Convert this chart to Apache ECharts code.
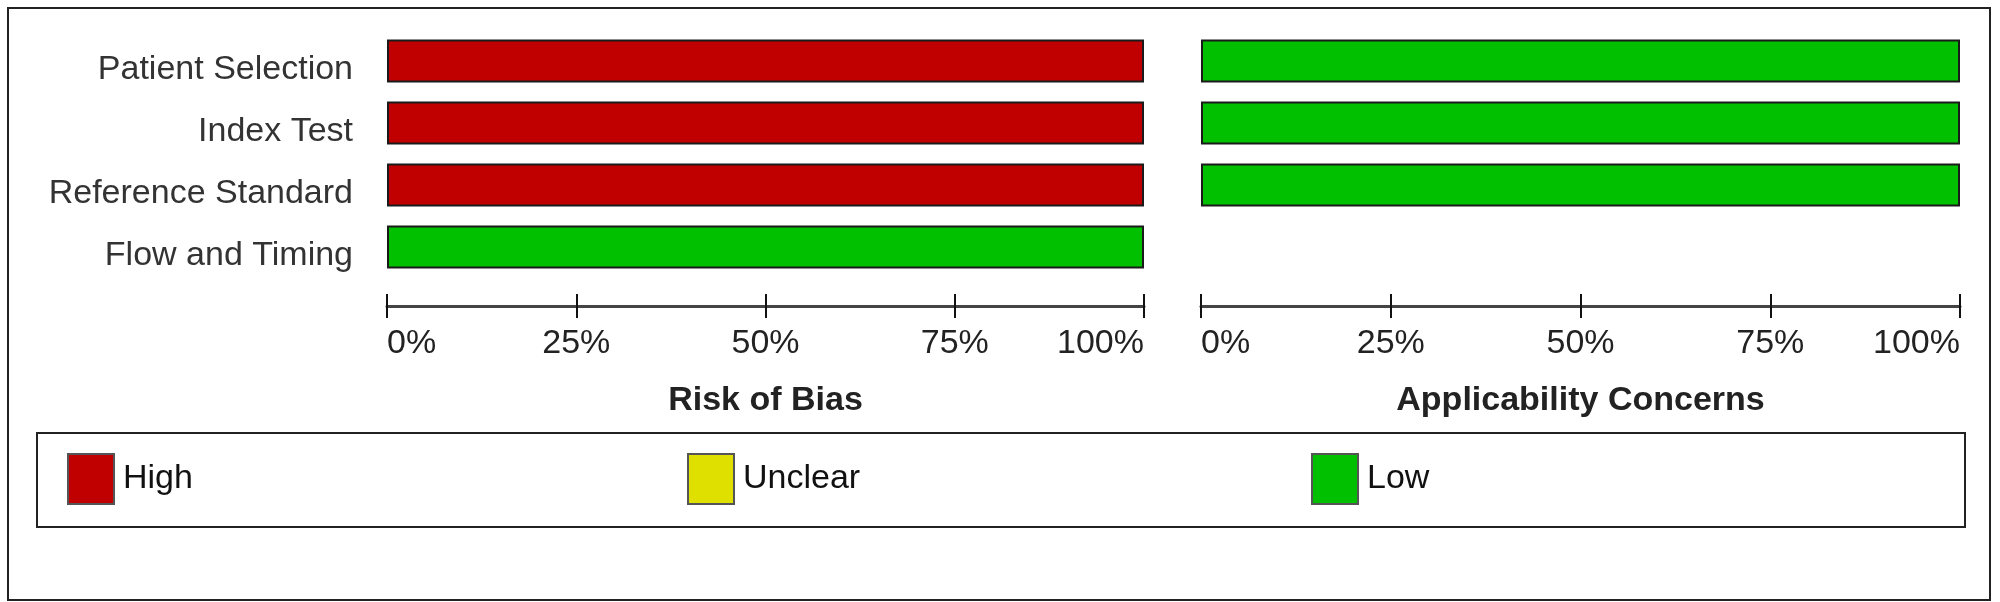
<!DOCTYPE html>
<html>
<head>
<meta charset="utf-8">
<script src="https://cdn.jsdelivr.net/npm/echarts@6/dist/echarts.min.js"></script>
<style>
  html, body { margin: 0; padding: 0; background: #fff; }
  #chart { width: 2000px; height: 602px; }
</style>
</head>
<body>
<div id="chart"></div>
<script>
// domains on the y axis
const domains = ['Patient Selection', 'Index Test', 'Reference Standard', 'Flow and Timing'];
const ticks = [0, 25, 50, 75, 100];
const levels = ['High', 'Unclear', 'Low'];
const levelColors = ['#C00000', '#E0E000', '#00C000'];

// % of studies per domain
const biasHigh = [100, 100, 100, 0];
const biasUnclear = [0, 0, 0, 0];
const biasLow = [0, 0, 0, 100];

const applHigh = [0, 0, 0, null];
const applUnclear = [0, 0, 0, null];
const applLow = [100, 100, 100, null];

const font = 'Liberation Sans, Arial, sans-serif';
const myChart = echarts.init(document.getElementById('chart'));

// zero / missing -> no bar drawn
const clean = arr => arr.map(v => (v ? v : '-'));

function mainAxis(gridIndex, title) {
  return {
    type: 'value', gridIndex: gridIndex, position: 'bottom', offset: 28,
    min: ticks[0], max: ticks[ticks.length - 1], interval: 25,
    splitLine: { show: false },
    axisLine: { show: true, lineStyle: { color: '#444', width: 3 } },
    axisTick: { show: true, length: 12, lineStyle: { color: '#111', width: 2 } },
    axisLabel: {
      formatter: '{value}%', fontSize: 34, fontFamily: font, color: '#222', margin: 21,
      alignMinLabel: 'left', alignMaxLabel: 'right'
    },
    name: title, nameLocation: 'middle', nameGap: 78, nameMoveOverlap: false,
    nameTextStyle: { fontSize: 34, fontWeight: 'bold', fontFamily: font, color: '#222' }
  };
}
function innerTicks(gridIndex) {
  return {
    type: 'value', gridIndex: gridIndex, position: 'bottom', offset: 28,
    min: ticks[0], max: ticks[ticks.length - 1], interval: 25,
    splitLine: { show: false },
    axisLine: { show: false },
    axisTick: { show: true, inside: true, length: 12, lineStyle: { color: '#111', width: 2 } },
    axisLabel: { show: false }
  };
}
function yAxis(gridIndex, showLabels) {
  return {
    type: 'category', gridIndex: gridIndex, data: domains, inverse: true,
    axisLine: { show: false }, axisTick: { show: false },
    axisLabel: {
      show: showLabels, fontSize: 34, fontFamily: font, color: '#333', margin: 34,
      verticalAlign: 'top', lineHeight: 18
    }
  };
}
function bar(name, data, xIdx, yIdx, stack) {
  return {
    name: name, type: 'bar', stack: stack, xAxisIndex: xIdx, yAxisIndex: yIdx,
    data: clean(data), barWidth: 43,
    itemStyle: { color: levelColors[levels.indexOf(name)], borderColor: '#1a1a1a', borderWidth: 2 },
    emphasis: { disabled: true }
  };
}

const legendLeft = [67, 687, 1311];

myChart.setOption({
  animation: false,
  backgroundColor: '#fff',
  textStyle: { fontFamily: font },
  grid: [
    { left: 387, top: 30, width: 757, height: 248, outerBoundsMode: 'none' },
    { left: 1201, top: 30, width: 759, height: 248, outerBoundsMode: 'none' }
  ],
  xAxis: [mainAxis(0, 'Risk of Bias'), innerTicks(0), mainAxis(1, 'Applicability Concerns'), innerTicks(1)],
  yAxis: [yAxis(0, true), yAxis(1, false)],
  legend: levels.map((n, i) => ({
    data: [n], left: legendLeft[i], top: 453, padding: 0, icon: 'rect',
    itemWidth: 46, itemHeight: 50, selectedMode: false,
    itemStyle: { borderColor: '#555', borderWidth: 2 },
    textStyle: { fontSize: 34, fontFamily: font, color: '#111', padding: [0, 0, 0, 4] }
  })),
  graphic: [
    { type: 'rect', shape: { x: 8, y: 8, width: 1982, height: 592 },
      style: { fill: 'none', stroke: '#222', lineWidth: 2 }, z: 10 },
    { type: 'rect', shape: { x: 37, y: 433, width: 1928, height: 94 },
      style: { fill: 'none', stroke: '#222', lineWidth: 2 }, z: 10 }
  ],
  series: [
    bar('High', biasHigh, 0, 0, 'bias'),
    bar('Unclear', biasUnclear, 0, 0, 'bias'),
    bar('Low', biasLow, 0, 0, 'bias'),
    bar('High', applHigh, 2, 1, 'appl'),
    bar('Unclear', applUnclear, 2, 1, 'appl'),
    bar('Low', applLow, 2, 1, 'appl')
  ]
});
</script>
</body>
</html>
